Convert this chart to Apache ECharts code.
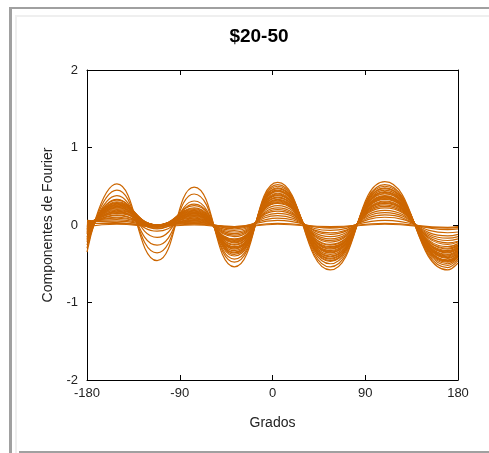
<!DOCTYPE html>
<html>
<head>
<meta charset="utf-8">
<title>$20-50</title>
<script src="https://cdn.jsdelivr.net/npm/echarts@6/dist/echarts.min.js"></script>
<style>
  html, body { margin: 0; padding: 0; background: #fff; }
  #chart { width: 489px; height: 453px; }
</style>
</head>
<body>
<div id="chart"></div>
<script>
// grados de los picos y valles (mas los bordes)
const grados = [-180, -151, -112, -76, -37, 5, 56, 109, 170, 180];
const xTicks = [-180, -90, 0, 90, 180];
const yTicks = [-2, -1, 0, 1, 2];

// componentes de Fourier, una por curva
const c01 = [-0.35, 0.53, -0.46, 0.49, -0.54, 0.55, -0.58, 0.56, -0.58, -0.49];
const c02 = [-0.30, 0.45, -0.36, 0.40, -0.48, 0.52, -0.54, 0.52, -0.55, -0.46];
const c03 = [-0.26, 0.38, -0.26, 0.31, -0.44, 0.50, -0.50, 0.50, -0.52, -0.44];
const c04 = [-0.22, 0.33, -0.16, 0.27, -0.40, 0.47, -0.47, 0.48, -0.50, -0.42];
const c05 = [-0.18, 0.30, 0, 0.22, -0.36, 0.45, -0.44, 0.45, -0.47, -0.40];
const c06 = [-0.15, 0.28, 0, 0.20, -0.33, 0.43, -0.41, 0.42, -0.45, -0.38];
const c07 = [-0.12, 0.26, 0, 0.18, -0.30, 0.40, -0.38, 0.40, -0.42, -0.36];
const c08 = [-0.10, 0.24, -0.05, 0.16, -0.28, 0.38, -0.35, 0.37, -0.40, -0.34];
const c09 = [-0.08, 0.22, 0, 0.15, -0.25, 0.35, -0.33, 0.35, -0.38, -0.32];
const c10 = [-0.06, 0.20, 0, 0.13, -0.22, 0.32, -0.30, 0.33, -0.35, -0.30];
const c11 = [-0.05, 0.18, -0.08, 0.12, -0.20, 0.30, -0.28, 0.30, -0.33, -0.28];
const c12 = [-0.04, 0.16, 0, 0.10, -0.18, 0.28, -0.25, 0.28, -0.30, -0.26];
const c13 = [-0.02, 0.15, 0, 0.09, -0.15, 0.25, -0.22, 0.26, -0.28, -0.24];
const c14 = [-0.03, 0.13, -0.04, 0.08, -0.13, 0.22, -0.20, 0.24, -0.25, -0.22];
const c15 = [0, 0.12, 0, 0.07, -0.11, 0.20, -0.18, 0.22, -0.23, -0.21];
const c16 = [0.02, 0.10, 0, 0.06, -0.09, 0.18, -0.15, 0.19, -0.20, -0.18];
const c17 = [0.03, 0.09, 0, 0.05, -0.07, 0.15, -0.12, 0.16, -0.17, -0.15];
const c18 = [0.04, 0.07, 0, 0.04, -0.05, 0.12, -0.10, 0.13, -0.14, -0.12];
const c19 = [0.05, 0.05, 0, 0.03, -0.03, 0.09, -0.07, 0.10, -0.10, -0.09];
const c20 = [0.06, 0.03, 0, 0.02, -0.02, 0.06, -0.04, 0.06, -0.06, -0.05];
const c21 = [-0.20, 0.32, -0.03, 0.25, -0.38, 0.48, -0.46, 0.47, -0.48, -0.41];
const c22 = [-0.16, 0.29, 0, 0.21, -0.35, 0.44, -0.43, 0.43, -0.46, -0.39];
const c23 = [-0.11, 0.27, 0, 0.19, -0.31, 0.41, -0.40, 0.41, -0.43, -0.37];
const c24 = [-0.09, 0.25, 0, 0.17, -0.29, 0.39, -0.36, 0.38, -0.41, -0.35];
const c25 = [-0.07, 0.23, 0, 0.16, -0.26, 0.36, -0.34, 0.36, -0.39, -0.33];
const c26 = [-0.05, 0.21, 0, 0.14, -0.23, 0.33, -0.31, 0.34, -0.36, -0.31];
const c27 = [-0.03, 0.19, 0, 0.12, -0.21, 0.31, -0.29, 0.31, -0.34, -0.29];
const c28 = [-0.01, 0.17, 0, 0.11, -0.19, 0.29, -0.26, 0.29, -0.31, -0.27];
const c29 = [0.02, 0.02, -0.01, 0.01, -0.02, 0.02, -0.02, 0.02, -0.03, -0.02];
const c30 = [-0.02, 0.01, -0.02, 0, -0.03, 0.01, -0.03, 0.01, -0.04, -0.03];

const curvas = [c01, c02, c03, c04, c05, c06, c07, c08, c09, c10,
                c11, c12, c13, c14, c15, c16, c17, c18, c19, c20,
                c21, c22, c23, c24, c25, c26, c27, c28, c29, c30];

const chart = echarts.init(document.getElementById("chart"));

const labelFont = { color: "#222", fontSize: 13, fontFamily: "Liberation Sans, Arial, sans-serif" };

// eje base (ticks hacia adentro)
const baseAxis = {
  axisLine: { show: true, onZero: false, lineStyle: { color: "#000", width: 1 } },
  axisTick: { show: true, inside: true, length: 5, lineStyle: { color: "#000" } },
  splitLine: { show: false },
};

const option = {
  animation: false,
  backgroundColor: "#fff",
  title: {
    text: "$20-50",
    left: 254,
    top: 22,
    textAlign: "center",
    textStyle: { fontSize: 19, fontWeight: "bold", color: "#000", fontFamily: "Liberation Sans, Arial, sans-serif" },
  },
  grid: { left: 87, right: 31, top: 70, bottom: 73 },
  xAxis: [
    {
      ...baseAxis,
      type: "value",
      min: xTicks[0],
      max: xTicks[xTicks.length - 1],
      interval: 90,
      name: "Grados",
      nameLocation: "middle",
      nameGap: 36,
      nameTextStyle: { ...labelFont, fontSize: 14 },
      axisLabel: { ...labelFont, margin: 7 },
    },
    {
      ...baseAxis,
      type: "value",
      position: "top",
      min: xTicks[0],
      max: xTicks[xTicks.length - 1],
      interval: 90,
      axisLabel: { show: false },
    },
  ],
  yAxis: [
    {
      ...baseAxis,
      type: "value",
      min: yTicks[0],
      max: yTicks[yTicks.length - 1],
      interval: 1,
      name: "Componentes de Fourier",
      nameLocation: "middle",
      nameGap: 32,
      nameTextStyle: { ...labelFont, fontSize: 14 },
      axisLabel: { ...labelFont, margin: 9 },
    },
    {
      ...baseAxis,
      type: "value",
      position: "right",
      min: yTicks[0],
      max: yTicks[yTicks.length - 1],
      interval: 1,
      axisLabel: { show: false },
    },
  ],
  series: curvas.map((c, k) => ({
    name: "c" + (k + 1),
    type: "line",
    smooth: 0.5,
    showSymbol: false,
    symbol: "none",
    clip: true,
    lineStyle: { color: "#cc6600", width: 1.2 },
    data: grados.map((g, i) => [g, c[i]]),
  })),
  // marco gris de la imagen
  graphic: [
    { type: "rect", shape: { x: 9, y: 7, width: 480, height: 2 }, style: { fill: "#a0a0a0" } },
    { type: "rect", shape: { x: 9, y: 7, width: 3, height: 446 }, style: { fill: "#a0a0a0" } },
    { type: "rect", shape: { x: 15, y: 15, width: 474, height: 2 }, style: { fill: "#efefef" } },
    { type: "rect", shape: { x: 15, y: 15, width: 2, height: 438 }, style: { fill: "#efefef" } },
    { type: "rect", shape: { x: 19, y: 451, width: 470, height: 2 }, style: { fill: "#a0a0a0" } },
  ],
};

chart.setOption(option);
</script>
</body>
</html>
